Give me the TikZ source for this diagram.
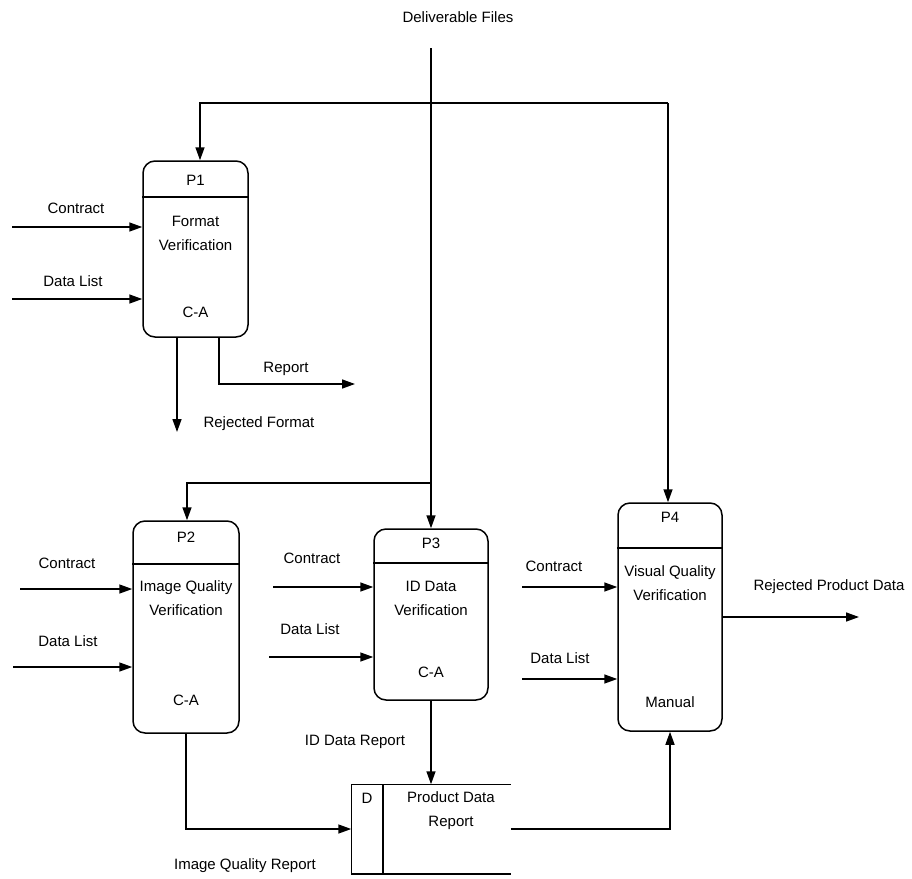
\documentclass[tikz,border=0pt]{standalone}
\usepackage{fontspec}
\setmainfont{Liberation Sans}
\usetikzlibrary{arrows.meta}
\begin{document}
\begin{tikzpicture}[x=1pt,y=-1pt,line width=1.5pt,
  font=\fontsize{15}{24}\selectfont,
  >={Triangle[length=13pt,width=9pt]},
  proc/.style={draw,rounded corners=12pt,inner sep=0pt},
  lbl/.style={inner sep=0pt,anchor=base},
  boxtxt/.style={inner sep=0pt,align=center}]
\useasboundingbox (0,0) rectangle (912,878);

% processes
\node[proc,minimum width=105pt,minimum height=176pt] (p1) at (195.5,249) {};
\node[proc,minimum width=106pt,minimum height=212pt] (p2) at (186,627) {};
\node[proc,minimum width=114pt,minimum height=171pt] (p3) at (431,614.5) {};
\node[proc,minimum width=104pt,minimum height=228pt] (p4) at (670,617) {};
\draw (p1.west |- 0,197) -- (p1.east |- 0,197);
\draw (p2.west |- 0,564) -- (p2.east |- 0,564);
\draw (p3.west |- 0,563) -- (p3.east |- 0,563);
\draw (p4.west |- 0,548) -- (p4.east |- 0,548);

\node[boxtxt] (p1id) at (195.5,180) {P1};
\node[boxtxt] (p1t) at (195.5,233) {Format\\Verification};
\node[boxtxt] (p1m) at (195.5,312) {C-A};
\node[boxtxt] (p2id) at (186,537) {P2};
\node[boxtxt] (p2t) at (186,598) {Image Quality\\Verification};
\node[boxtxt] (p2m) at (186,700) {C-A};
\node[boxtxt] (p3id) at (431,543) {P3};
\node[boxtxt] (p3t) at (431,598) {ID Data\\Verification};
\node[boxtxt] (p3m) at (431,672) {C-A};
\node[boxtxt] (p4id) at (670,517) {P4};
\node[boxtxt] (p4t) at (670,583) {Visual Quality\\Verification};
\node[boxtxt] (p4m) at (670,702) {Manual};

% data store
\node[minimum width=158pt,minimum height=88pt,inner sep=0pt] (st) at (431,829) {};
\draw (st.north east) -- (st.north west) -- (st.south west) -- (st.south east);
\draw (383,785) -- (383,873);
\node[boxtxt] (sd) at (367,798) {D};
\node[boxtxt] (stt) at (451,811) {Product Data\\Report};

% deliverable files
\node[lbl] (del) at (458,22) {Deliverable Files};
\coordinate (d0) at (431,48);
\draw[->] (d0) -- (p3.north);
\coordinate (t1) at (200,103);
\coordinate (t2) at (668,103);
\draw[->] (t2) -- (t1) -- (t1 |- p1.north);
\draw[->] (t2) -- (t2 |- p4.north);
\coordinate (m1) at (187,483);
\coordinate (m2) at (431,483);
\draw[->] (m2) -- (m1) -- (m1 |- p2.north);

% P1 inputs
\coordinate (c1) at (12,227);
\draw[->] (c1) -- (c1 -| p1.west);
\node[lbl] (c1l) at (76,213) {Contract};
\coordinate (l1) at (12,299);
\draw[->] (l1) -- (l1 -| p1.west);
\node[lbl] (l1l) at (73,286) {Data List};
% P1 outputs
\coordinate (r1) at (177,432);
\draw[->] (r1 |- p1.south) -- (r1);
\node[lbl] (r1l) at (259,427) {Rejected Format};
\coordinate (r2a) at (219,384);
\coordinate (r2b) at (355,384);
\draw[->] (r2a |- p1.south) -- (r2a) -- (r2b);
\node[lbl] (r2l) at (286,372) {Report};

% P2 inputs
\coordinate (c2) at (20,589);
\draw[->] (c2) -- (c2 -| p2.west);
\node[lbl] (c2l) at (67,568) {Contract};
\coordinate (l2) at (13,667);
\draw[->] (l2) -- (l2 -| p2.west);
\node[lbl] (l2l) at (68,646) {Data List};

% P3 inputs
\coordinate (c3) at (273,587);
\draw[->] (c3) -- (c3 -| p3.west);
\node[lbl] (c3l) at (312,563) {Contract};
\coordinate (l3) at (269,657);
\draw[->] (l3) -- (l3 -| p3.west);
\node[lbl] (l3l) at (310,634) {Data List};

% P4 inputs
\coordinate (c4) at (522,587);
\draw[->] (c4) -- (c4 -| p4.west);
\node[lbl] (c4l) at (554,571) {Contract};
\coordinate (l4) at (522,679);
\draw[->] (l4) -- (l4 -| p4.west);
\node[lbl] (l4l) at (560,663) {Data List};

% P4 output
\coordinate (rp) at (859,617);
\draw[->] (p4.east) -- (rp);
\node[lbl] (rpl) at (829,590) {Rejected Product Data};

% to/from store
\draw[->] (p3.south) -- (st.north);
\node[lbl] (idr) at (355,745) {ID Data Report};
\coordinate (s1) at (186,829);
\draw[->] (s1 |- p2.south) -- (s1) -- (st.west);
\node[lbl] (iqr) at (245,869) {Image Quality Report};
\coordinate (s2) at (670,829);
\draw[->] (st.east) -- (s2) -- (p4.south);
\end{tikzpicture}
\end{document}
